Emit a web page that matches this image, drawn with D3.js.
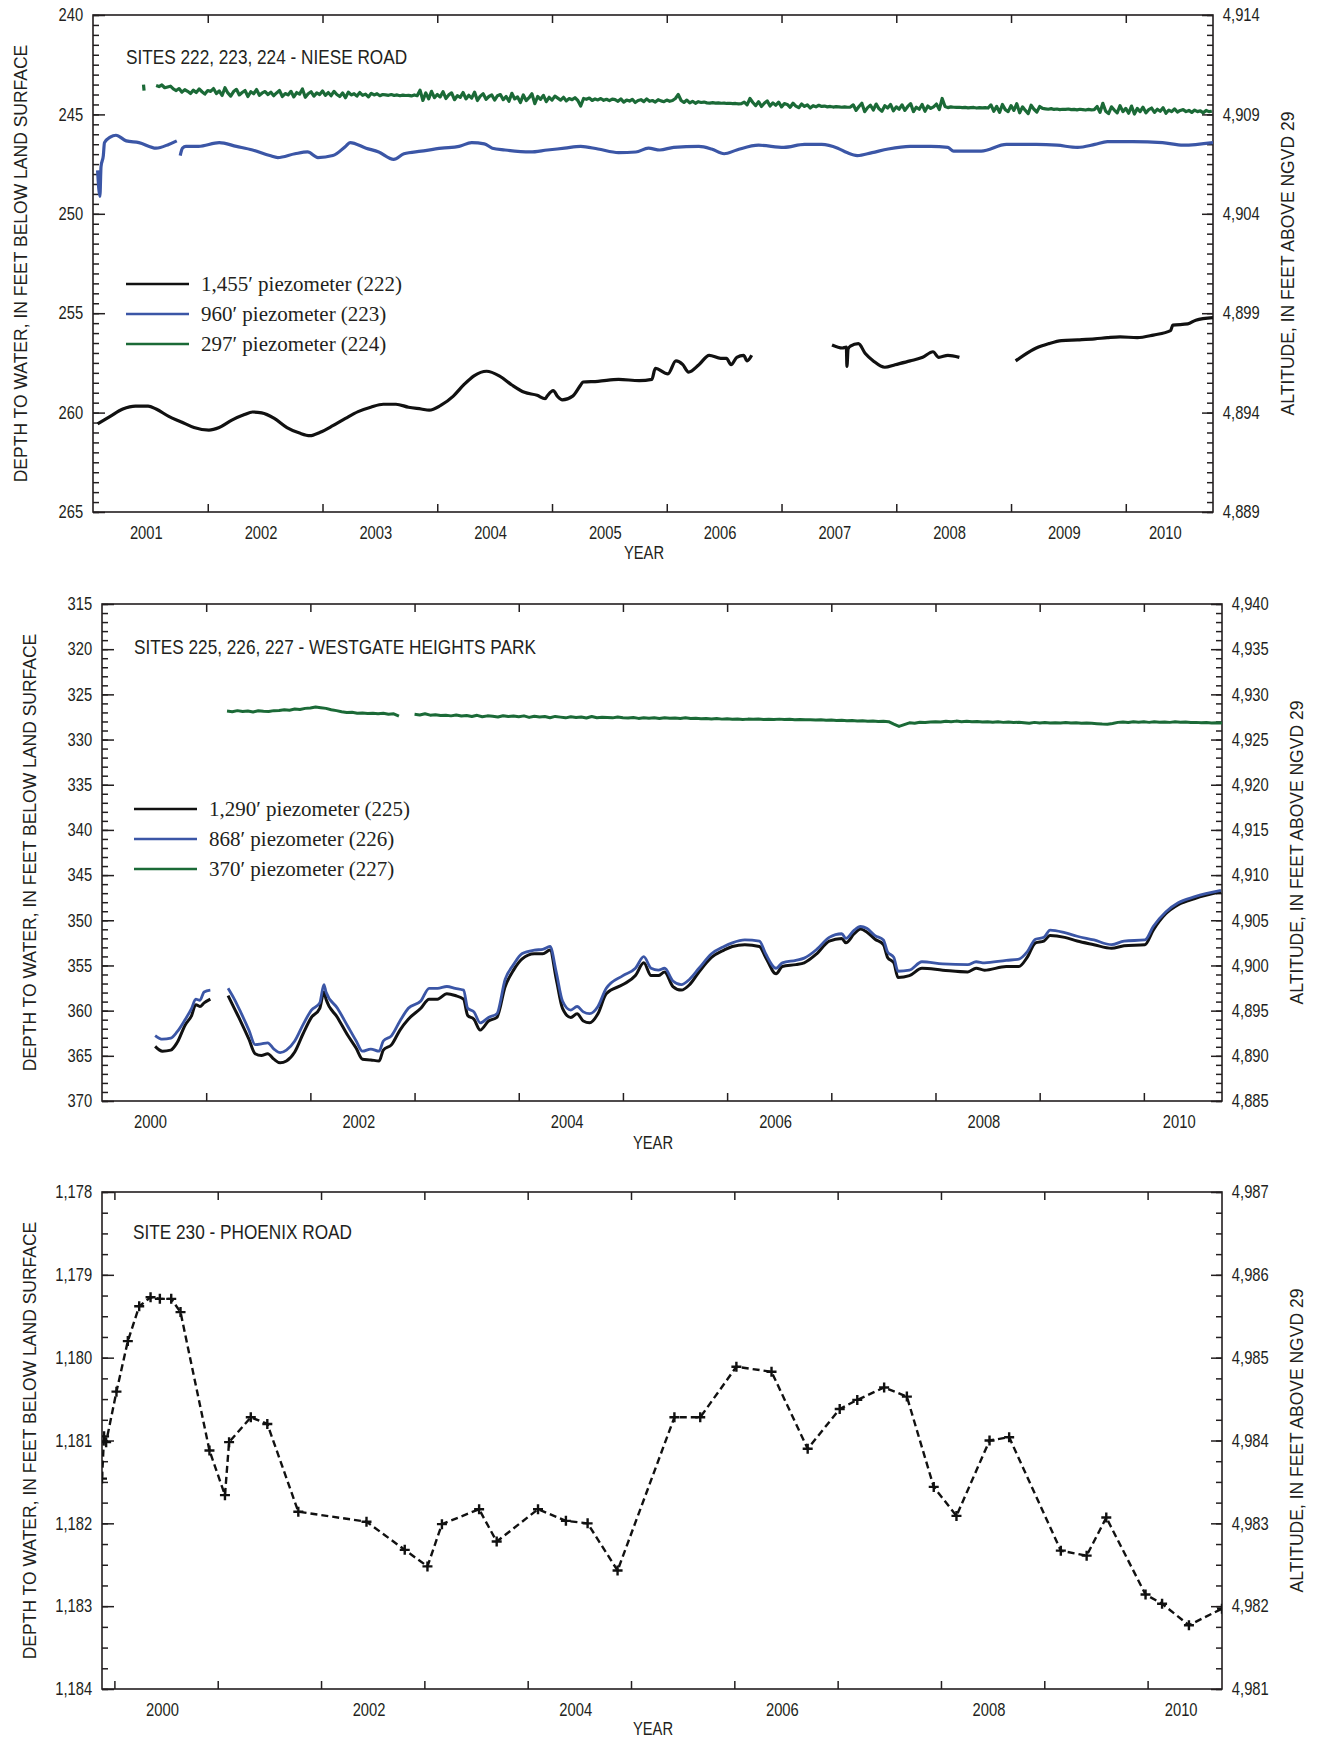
<!DOCTYPE html>
<html>
<head>
<meta charset="utf-8">
<title>Depth to water - sites 222-230</title>
<script src="https://cdn.jsdelivr.net/npm/d3@7"></script>
<style>
  body { margin: 0; background: #fff; }
  svg text { fill: #231f20; }
  .tick text { font-family: 'Liberation Sans', Arial, sans-serif; font-size: 18px; fill: #231f20; }
  .tick line { stroke: #231f20; stroke-width: 1.5; }
  .domain { display: none; }
  .frame { fill: none; stroke: #231f20; stroke-width: 1.6; }
  .panel-title { font-family: 'Liberation Sans', Arial, sans-serif; font-size: 21px; }
  .axis-title { font-family: 'Liberation Sans', Arial, sans-serif; font-size: 17.5px; }
  .year-title { font-family: 'Liberation Sans', Arial, sans-serif; font-size: 18px; }
  .legend text { font-family: 'Liberation Serif', 'Times New Roman', serif; font-size: 21px; }
</style>
</head>
<body>
<svg id="chart" width="1317" height="1738"></svg>
<script>
// ---- Panel 1: sites 222, 223, 224 (Niese Road) ----
const p1DepthTicks = [240, 245, 250, 255, 260, 265];
const p1AltTicks = [4914, 4909, 4904, 4899, 4894, 4889];
const p1YearLabels = [2001, 2002, 2003, 2004, 2005, 2006, 2007, 2008, 2009, 2010];

// 1,455' piezometer (222) [decimal year, depth]; null = gap in record
const site222 = [
  [2001.04, 260.57], [2001.15, 260.19], [2001.26, 259.82], [2001.37, 259.67], [2001.48, 259.67],
  [2001.55, 259.82], [2001.66, 260.19], [2001.77, 260.47], [2001.88, 260.75], [2002.01, 260.88],
  [2002.10, 260.75], [2002.21, 260.38], [2002.32, 260.10], [2002.39, 259.97], [2002.47, 260.01],
  [2002.58, 260.29], [2002.69, 260.75], [2002.80, 261.03], [2002.89, 261.16], [2002.98, 260.99],
  [2003.09, 260.66], [2003.20, 260.29], [2003.31, 259.95], [2003.42, 259.73], [2003.53, 259.58],
  [2003.64, 259.58], [2003.75, 259.73], [2003.86, 259.82], [2003.93, 259.88], [2004.03, 259.64],
  [2004.14, 259.17], [2004.23, 258.61], [2004.32, 258.15], [2004.43, 257.92], [2004.54, 258.15],
  [2004.65, 258.61], [2004.76, 258.98], [2004.87, 259.13], [2004.94, 259.30], [2004.96, 259.15],
  [2005.01, 258.89], [2005.05, 259.20], [2005.09, 259.36], [2005.18, 259.17], [2005.25, 258.61],
  [2005.27, 258.46], [2005.40, 258.43], [2005.58, 258.33], [2005.76, 258.39], [2005.87, 258.33],
  [2005.90, 257.77], [2006.01, 258.05], [2006.08, 257.40], [2006.14, 257.59], [2006.19, 257.96],
  [2006.28, 257.59], [2006.37, 257.12], [2006.47, 257.27], [2006.52, 257.27], [2006.56, 257.59],
  [2006.61, 257.22], [2006.67, 257.12], [2006.70, 257.40], [2006.74, 257.12],
  null,
  [2007.44, 256.60], [2007.53, 256.75], [2007.565, 256.70], [2007.57, 257.68], [2007.58, 256.80],
  [2007.60, 256.66], [2007.67, 256.53], [2007.73, 257.03], [2007.80, 257.40], [2007.90, 257.72],
  [2007.99, 257.59], [2008.12, 257.40], [2008.23, 257.22], [2008.32, 256.94], [2008.37, 257.22],
  [2008.45, 257.12], [2008.55, 257.22],
  null,
  [2009.04, 257.40], [2009.11, 257.12], [2009.22, 256.75], [2009.33, 256.53], [2009.44, 256.38],
  [2009.58, 256.34], [2009.73, 256.29], [2009.84, 256.23], [2009.95, 256.19], [2010.10, 256.23],
  [2010.24, 256.10], [2010.39, 255.88], [2010.41, 255.60], [2010.54, 255.54], [2010.61, 255.35],
  [2010.76, 255.22]
];

// 960' piezometer (223)
const site223 = [
  [2001.04, 247.82], [2001.06, 249.12], [2001.07, 247.63], [2001.09, 247.07], [2001.10, 246.42],
  [2001.15, 246.14], [2001.20, 246.05], [2001.29, 246.33], [2001.40, 246.42], [2001.55, 246.70],
  [2001.66, 246.51], [2001.73, 246.33],
  null,
  [2001.76, 247.07], [2001.78, 246.70], [2001.81, 246.61], [2001.92, 246.61], [2002.10, 246.42],
  [2002.25, 246.61], [2002.39, 246.79], [2002.54, 247.07], [2002.61, 247.17], [2002.76, 246.98],
  [2002.87, 246.89], [2002.96, 247.17], [2003.09, 247.07], [2003.20, 246.61], [2003.24, 246.42],
  [2003.38, 246.70], [2003.49, 246.89], [2003.62, 247.26], [2003.71, 246.98], [2003.86, 246.85],
  [2004.04, 246.70], [2004.19, 246.61], [2004.30, 246.42], [2004.41, 246.48], [2004.48, 246.70],
  [2004.59, 246.79], [2004.81, 246.89], [2004.96, 246.79], [2005.11, 246.70], [2005.25, 246.61],
  [2005.40, 246.74], [2005.58, 246.92], [2005.73, 246.89], [2005.84, 246.70], [2005.94, 246.79],
  [2006.06, 246.66], [2006.28, 246.61], [2006.39, 246.74], [2006.50, 246.98], [2006.61, 246.79],
  [2006.80, 246.55], [2007.02, 246.66], [2007.20, 246.51], [2007.35, 246.51], [2007.49, 246.70],
  [2007.57, 246.92], [2007.66, 247.07], [2007.79, 246.92], [2007.93, 246.74], [2008.12, 246.61],
  [2008.30, 246.61], [2008.45, 246.66], [2008.50, 246.85], [2008.74, 246.85], [2008.96, 246.51],
  [2009.22, 246.51], [2009.40, 246.55], [2009.58, 246.66], [2009.73, 246.51], [2009.84, 246.37],
  [2010.06, 246.37], [2010.32, 246.42], [2010.50, 246.55], [2010.76, 246.42]
];

// 297' piezometer (224): isolated early reading, then readings every 0.025 yr from 2001.55
const site224Early = [[2001.44, 243.50], [2001.445, 243.80]];
const site224Start = 2001.55;
const site224Step = 0.025;
const site224Depth = [
  243.55, 243.60, 243.52, 243.66, 243.62, 243.58, 243.72, 243.80, 243.70, 243.88,
  243.76, 243.84, 243.95, 243.78, 243.90, 243.72, 243.86, 243.98, 243.80, 243.84,
  243.70, 243.95, 243.82, 244.05, 243.66, 243.92, 244.08, 243.85, 243.74, 244.02,
  243.90, 243.80, 244.10, 243.86, 243.96, 243.75, 244.04, 243.92, 243.85, 244.00,
  243.88, 244.06, 243.92, 243.80, 244.10, 243.95, 244.02, 243.84, 244.12, 243.90,
  243.98, 243.72, 244.14, 243.96, 243.86, 244.08, 243.92, 244.00, 243.82, 244.04,
  243.90, 244.06, 243.84, 244.00, 244.10, 243.92, 244.16, 243.88, 244.02, 243.96,
  244.08, 243.90, 244.04, 243.98, 244.12, 243.94, 244.02, 243.96, 244.06, 244.00,
  244.02, 244.04, 244.00, 244.05, 244.02, 244.06, 244.03, 244.05, 244.04, 244.07,
  244.02, 244.06, 243.78, 244.30, 243.92, 244.22, 243.84, 244.16, 244.00, 244.12,
  243.86, 244.20, 244.02, 243.92, 244.26, 244.06, 244.14, 243.90, 244.22, 244.04,
  244.18, 243.88, 244.30, 244.08, 243.96, 244.24, 244.10, 244.02, 244.28, 244.06,
  244.00, 244.26, 244.10, 244.34, 243.94, 244.22, 244.12, 244.40, 244.02, 244.30,
  244.16, 243.96, 244.46, 244.10, 244.24, 244.04, 244.36, 244.14, 244.28, 244.08,
  244.18, 244.28, 244.14, 244.32, 244.20, 244.26, 244.16, 244.30, 244.58, 244.20,
  244.24, 244.18, 244.30, 244.22, 244.27, 244.20, 244.29, 244.24, 244.31, 244.23,
  244.26, 244.34, 244.22, 244.38, 244.28, 244.33, 244.24, 244.40, 244.30, 244.26,
  244.36, 244.22, 244.34, 244.30, 244.38, 244.26, 244.32, 244.36, 244.28, 244.34,
  244.30, 244.20, 244.00, 244.30, 244.40, 244.28, 244.42, 244.34, 244.44, 244.36,
  244.40, 244.38, 244.42, 244.43, 244.41, 244.43, 244.42, 244.44, 244.43, 244.45,
  244.44, 244.46, 244.45, 244.47, 244.46, 244.38, 244.52, 244.20, 244.40, 244.56,
  244.36, 244.60, 244.44, 244.32, 244.58, 244.42, 244.54, 244.38, 244.62, 244.46,
  244.50, 244.64, 244.44, 244.58, 244.66, 244.48, 244.60, 244.52, 244.68, 244.56,
  244.62, 244.54, 244.60, 244.58, 244.62, 244.60, 244.63, 244.61, 244.62, 244.64,
  244.62, 244.64, 244.63, 244.52, 244.80, 244.60, 244.44, 244.86, 244.66, 244.54,
  244.78, 244.48, 244.72, 244.84, 244.56, 244.68, 244.50, 244.82, 244.62, 244.74,
  244.52, 244.80, 244.60, 244.46, 244.86, 244.64, 244.74, 244.50, 244.84, 244.58,
  244.70, 244.62, 244.48, 244.76, 244.20, 244.60, 244.66, 244.62, 244.64, 244.65,
  244.64, 244.66, 244.65, 244.67, 244.66, 244.65, 244.68, 244.66, 244.67, 244.66,
  244.68, 244.52, 244.84, 244.60, 244.90, 244.50, 244.76, 244.86, 244.56, 244.80,
  244.46, 244.92, 244.62, 244.80, 244.96, 244.54, 244.74, 244.88, 244.60, 244.70,
  244.72, 244.74, 244.71, 244.75, 244.73, 244.76, 244.74, 244.75, 244.73, 244.76,
  244.75, 244.77, 244.74, 244.76, 244.78, 244.75, 244.77, 244.76, 244.60, 244.90,
  244.44, 244.84, 244.96, 244.62, 244.78, 244.92, 244.56, 244.86, 244.70, 244.94,
  244.58, 244.98, 244.70, 244.86, 244.64, 244.92, 244.76, 244.68, 244.90, 244.74,
  244.84, 244.66, 244.94, 244.78, 244.86, 244.72, 244.88, 244.80, 244.76, 244.86,
  244.80, 244.90, 244.78, 244.86, 244.82, 244.92, 244.80, 244.86, 244.84
];

// ---- Panel 2: sites 225, 226, 227 (Westgate Heights Park) ----
const p2DepthTicks = [315, 320, 325, 330, 335, 340, 345, 350, 355, 360, 365, 370];
const p2AltTicks = [4940, 4935, 4930, 4925, 4920, 4915, 4910, 4905, 4900, 4895, 4890, 4885];
const p2YearLabels = [2000, 2002, 2004, 2006, 2008, 2010];

const p2Years = [
  2000.51, 2000.58, 2000.66, 2000.72, 2000.80, 2000.86, 2000.90, 2000.94, 2000.98, 2001.04,
  2001.12,
  2001.21, 2001.27, 2001.33, 2001.41, 2001.47, 2001.53, 2001.59, 2001.65, 2001.71, 2001.77,
  2001.85, 2001.93, 2002.01, 2002.09, 2002.13, 2002.15, 2002.26, 2002.36, 2002.44, 2002.50,
  2002.58, 2002.66, 2002.70, 2002.78, 2002.86, 2002.94, 2003.06, 2003.14, 2003.22, 2003.31,
  2003.39, 2003.47, 2003.51, 2003.57, 2003.63, 2003.71, 2003.79, 2003.87, 2003.95, 2004.03,
  2004.15, 2004.23, 2004.30, 2004.36, 2004.42, 2004.50, 2004.56, 2004.62, 2004.68, 2004.76,
  2004.84, 2005.00, 2005.12, 2005.20, 2005.27, 2005.34, 2005.40, 2005.48, 2005.56, 2005.64,
  2005.73, 2005.85, 2005.97, 2006.05, 2006.17, 2006.31, 2006.37, 2006.47, 2006.53, 2006.66,
  2006.74, 2006.86, 2006.98, 2007.10, 2007.14, 2007.22, 2007.28, 2007.34, 2007.42, 2007.50,
  2007.54, 2007.60, 2007.64, 2007.75, 2007.87, 2008.07, 2008.31, 2008.39, 2008.47, 2008.68,
  2008.80, 2008.88, 2008.96, 2009.04, 2009.10, 2009.24, 2009.36, 2009.52, 2009.69, 2009.81,
  2010.01, 2010.09, 2010.21, 2010.33, 2010.49, 2010.74
];

// 1,290' piezometer (225)
const site225 = [
  363.96, 364.49, 364.37, 363.56, 361.55, 360.54, 359.34, 359.54, 359.14, 358.73,
  null,
  358.33, 359.74, 361.15, 363.16, 364.77, 364.97, 364.77, 365.37, 365.78, 365.57,
  364.57, 362.56, 360.75, 359.74, 357.93, 358.73, 360.75, 362.76, 364.17, 365.37,
  365.45, 365.57, 364.37, 363.76, 362.15, 360.95, 359.74, 358.73, 358.73, 358.13,
  358.33, 358.73, 360.54, 360.95, 362.15, 361.15, 360.75, 357.33, 355.52, 354.31,
  353.71, 353.71, 353.30, 356.52, 359.74, 360.75, 360.34, 361.15, 361.35, 360.34,
  358.13, 357.12, 356.12, 354.71, 356.12, 356.12, 355.72, 357.33, 357.73, 357.12,
  355.72, 354.11, 353.30, 352.90, 352.70, 352.90, 354.11, 355.92, 355.12, 354.91,
  354.71, 353.71, 352.30, 352.01, 352.50, 351.49, 350.97, 351.29, 352.10, 352.70,
  354.11, 354.71, 356.32, 356.12, 355.31, 355.52, 355.72, 355.31, 355.52, 355.12,
  355.12, 354.11, 352.50, 352.30, 351.69, 351.89, 352.30, 352.70, 353.10, 352.82,
  352.70, 351.09, 349.28, 348.27, 347.59, 346.86
];

// 868' piezometer (226)
const site226 = [
  362.76, 363.16, 363.04, 362.36, 360.95, 359.74, 358.73, 358.85, 357.93, 357.73,
  null,
  357.53, 358.73, 360.14, 362.15, 363.76, 363.68, 363.56, 364.25, 364.65, 364.37,
  363.36, 361.55, 359.94, 359.14, 357.12, 357.93, 359.74, 361.75, 363.36, 364.49,
  364.25, 364.49, 363.36, 362.76, 361.15, 359.74, 358.93, 357.53, 357.53, 357.33,
  357.53, 357.73, 359.74, 360.14, 361.35, 360.75, 360.34, 356.52, 354.91, 353.71,
  353.30, 353.22, 352.90, 355.72, 358.93, 359.94, 359.54, 360.14, 360.34, 359.54,
  357.53, 356.12, 355.31, 354.03, 355.31, 355.52, 355.31, 356.72, 357.12, 356.52,
  355.31, 353.71, 352.90, 352.50, 352.18, 352.30, 353.71, 355.31, 354.71, 354.43,
  354.19, 353.22, 351.89, 351.49, 352.01, 351.09, 350.69, 350.89, 351.69, 352.18,
  353.50, 354.11, 355.64, 355.52, 354.59, 354.83, 354.91, 354.59, 354.71, 354.43,
  354.31, 353.50, 352.10, 351.89, 351.09, 351.37, 351.77, 352.18, 352.70, 352.30,
  352.18, 350.69, 349.08, 348.07, 347.39, 346.70
];

// 370' piezometer (227): two runs of readings every 0.05 yr
const site227Step = 0.05;
const site227StartA = 2001.20;
const site227DepthA = [
  326.85, 326.92, 326.80, 326.90, 326.85, 326.95, 326.82, 326.88, 326.90, 326.80,
  326.78, 326.70, 326.75, 326.62, 326.68, 326.55, 326.50, 326.40, 326.48, 326.55,
  326.70, 326.80, 326.92, 327.00, 326.98, 327.08, 327.05, 327.12, 327.08, 327.15,
  327.10, 327.20, 327.15, 327.40
];
const site227StartB = 2003.00;
const site227DepthB = [
  327.20, 327.28, 327.15, 327.30, 327.25, 327.35, 327.30, 327.38, 327.28, 327.40,
  327.35, 327.45, 327.32, 327.48, 327.38, 327.42, 327.50, 327.36, 327.46, 327.40,
  327.48, 327.38, 327.55, 327.42, 327.50, 327.46, 327.58, 327.44, 327.52, 327.60,
  327.48, 327.56, 327.50, 327.62, 327.45, 327.58, 327.52, 327.55, 327.60, 327.50,
  327.58, 327.62, 327.55, 327.66, 327.58, 327.64, 327.60, 327.68, 327.58, 327.65,
  327.62, 327.66, 327.60, 327.68, 327.64, 327.70, 327.66, 327.72, 327.68, 327.74,
  327.70, 327.76, 327.72, 327.78, 327.74, 327.76, 327.72, 327.78, 327.75, 327.77,
  327.74, 327.78, 327.76, 327.80, 327.78, 327.82, 327.80, 327.84, 327.82, 327.86,
  327.84, 327.88, 327.86, 327.92, 327.90, 327.94, 327.92, 327.98, 327.96, 328.00,
  327.98, 328.02, 328.30, 328.55, 328.35, 328.15, 328.20, 328.08, 328.12, 328.05,
  328.02, 328.06, 327.98, 328.04, 327.96, 328.02, 327.98, 328.04, 328.00, 328.06,
  328.02, 328.08, 328.04, 328.10, 328.06, 328.12, 328.08, 328.14, 328.20, 328.10,
  328.16, 328.12, 328.18, 328.14, 328.16, 328.12, 328.18, 328.15, 328.20, 328.16,
  328.20, 328.24, 328.28, 328.30, 328.22, 328.10, 328.05, 328.12, 328.02, 328.08,
  328.04, 328.10, 328.02, 328.08, 328.05, 328.10, 328.04, 328.08, 328.06, 328.12,
  328.10, 328.14, 328.12, 328.16, 328.14, 328.18
];

// ---- Panel 3: site 230 (Phoenix Road) ----
const p3DepthTicks = [1178, 1179, 1180, 1181, 1182, 1183, 1184];
const p3AltTicks = [4987, 4986, 4985, 4984, 4983, 4982, 4981];
const p3YearLabels = [2000, 2002, 2004, 2006, 2008, 2010];

const p3Years = [
  1999.88, 1999.90, 1999.92, 2000.02, 2000.13, 2000.24, 2000.35, 2000.44, 2000.55, 2000.64,
  2000.92, 2001.07, 2001.11, 2001.32, 2001.48, 2001.78, 2002.44, 2002.81, 2003.03, 2003.17,
  2003.53, 2003.70, 2004.10, 2004.37, 2004.58, 2004.87, 2005.42, 2005.67, 2006.02, 2006.36,
  2006.71, 2007.02, 2007.19, 2007.45, 2007.67, 2007.93, 2008.15, 2008.47, 2008.66, 2009.16,
  2009.41, 2009.60, 2009.98, 2010.14, 2010.40, 2010.72
];
const site230 = [
  1181.46, 1180.95, 1181.02, 1180.41, 1179.80, 1179.38, 1179.27, 1179.29, 1179.29, 1179.45,
  1181.12, 1181.66, 1181.02, 1180.72, 1180.80, 1181.86, 1181.98, 1182.32, 1182.52, 1182.01,
  1181.83, 1182.22, 1181.83, 1181.97, 1182.00, 1182.57, 1180.72, 1180.72, 1180.11, 1180.17,
  1181.10, 1180.62, 1180.51, 1180.36, 1180.47, 1181.56, 1181.91, 1181.00, 1180.96, 1182.33,
  1182.39, 1181.93, 1182.86, 1182.97, 1183.23, 1183.03
];

// ---- drawing ----
const BLACK = '#111111';
const BLUE = '#3b56a6';
const GREEN = '#1b6a37';
const NARROW = 'scale(0.82,1)'; // condensed look for labels (no narrow face installed)

const svg = d3.select('#chart');
const fmt = d3.format(',');

function stepSeries(start, step, values) {
  return values.map((v, i) => [start + i * step, v]);
}
function pairSeries(years, values) {
  return years.map((yr, i) => (values[i] === null ? null : [yr, values[i]]));
}

function drawPanel(p) {
  const g = svg.append('g');
  const x = d3.scaleLinear().domain(p.xDomain).range([p.x0, p.x1]);
  const y = d3.scaleLinear()
    .domain([p.depthTicks[0], p.depthTicks[p.depthTicks.length - 1]])
    .range([p.y0, p.y1]);
  const yAlt = d3.scaleLinear()
    .domain([p.altTicks[0], p.altTicks[p.altTicks.length - 1]])
    .range([p.y0, p.y1]);

  // minor ticks on depth / altitude axes
  const d0 = p.depthTicks[0];
  const dn = p.depthTicks[p.depthTicks.length - 1];
  const minorDepth = d3.range(Math.round((dn - d0) / p.minorStep) + 1).map(i => d0 + i * p.minorStep);
  const a0 = p.altTicks[0];
  const minorAlt = minorDepth.map(d => a0 - (d - d0));

  g.append('g').attr('transform', `translate(${p.x0},0)`)
    .call(d3.axisLeft(y).tickValues(minorDepth).tickSizeInner(-6).tickSizeOuter(0).tickFormat(''));
  g.append('g').attr('transform', `translate(${p.x0},0)`)
    .call(d3.axisLeft(y).tickValues(p.depthTicks).tickSizeInner(-12).tickSizeOuter(0).tickPadding(12).tickFormat(fmt))
    .selectAll('text').attr('transform', NARROW);

  g.append('g').attr('transform', `translate(${p.x1},0)`)
    .call(d3.axisRight(yAlt).tickValues(minorAlt).tickSizeInner(-6).tickSizeOuter(0).tickFormat(''));
  g.append('g').attr('transform', `translate(${p.x1},0)`)
    .call(d3.axisRight(yAlt).tickValues(p.altTicks).tickSizeInner(-11).tickSizeOuter(0).tickPadding(12).tickFormat(fmt))
    .selectAll('text').attr('transform', NARROW);

  // year ticks on top and bottom
  const firstYear = Math.ceil(p.xDomain[0] + 0.001);
  const yearTicks = d3.range(firstYear, Math.floor(p.xDomain[1]) + 1).filter(v => v > p.xDomain[0] + 0.01);
  g.append('g').attr('transform', `translate(0,${p.y1})`)
    .call(d3.axisBottom(x).tickValues(yearTicks).tickSizeInner(-8).tickSizeOuter(0).tickFormat(''));
  g.append('g').attr('transform', `translate(0,${p.y0})`)
    .call(d3.axisTop(x).tickValues(yearTicks).tickSizeInner(-8).tickSizeOuter(0).tickFormat(''));

  // year labels centred in the visible part of each year
  const labelPos = p.yearLabels.map(yr => {
    const a = Math.max(yr, p.xDomain[0]);
    const b = Math.min(yr + 1, p.xDomain[1]);
    return (a + b) / 2 - 0.04;
  });
  g.append('g').attr('transform', `translate(0,${p.y1})`)
    .call(d3.axisBottom(x).tickValues(labelPos).tickSize(0).tickPadding(14)
      .tickFormat((d, i) => p.yearLabels[i]))
    .selectAll('text').attr('transform', NARROW);

  // frame
  g.append('rect').attr('class', 'frame')
    .attr('x', p.x0).attr('y', p.y0)
    .attr('width', p.x1 - p.x0).attr('height', p.y1 - p.y0);

  // series
  const clipId = `clip${p.id}`;
  svg.append('clipPath').attr('id', clipId).append('rect')
    .attr('x', p.x0).attr('y', p.y0).attr('width', p.x1 - p.x0).attr('height', p.y1 - p.y0);
  const plot = g.append('g').attr('clip-path', `url(#${clipId})`);

  p.series.forEach(s => {
    const line = d3.line()
      .defined(d => d !== null)
      .x(d => x(d[0]))
      .y(d => y(d[1]))
      .curve(s.curve || d3.curveLinear);
    plot.append('path')
      .attr('d', line(s.points))
      .attr('fill', 'none')
      .attr('stroke', s.color)
      .attr('stroke-width', s.width)
      .attr('stroke-dasharray', s.dash || null)
      .attr('stroke-linejoin', 'round');
    if (s.markers) {
      plot.selectAll(null)
        .data(s.points.filter(d => d !== null))
        .enter()
        .append('path')
        .attr('d', d => {
          const cx = x(d[0]), cy = y(d[1]);
          return `M${cx - 5},${cy}H${cx + 5}M${cx},${cy - 5}V${cy + 5}`;
        })
        .attr('stroke', s.color)
        .attr('stroke-width', 2.4);
    }
  });

  // titles
  g.append('text').attr('class', 'panel-title')
    .attr('transform', `translate(${p.x0 + p.titleDx},${p.y0 + p.titleDy}) ${NARROW}`)
    .text(p.title);

  g.append('text').attr('class', 'axis-title')
    .attr('transform', `translate(${p.leftTitleX},${(p.y0 + p.y1) / 2}) rotate(-90)`)
    .attr('text-anchor', 'middle')
    .text('DEPTH TO WATER, IN FEET BELOW LAND SURFACE');

  g.append('text').attr('class', 'axis-title')
    .attr('transform', `translate(${p.rightTitleX},${(p.y0 + p.y1) / 2}) rotate(-90)`)
    .attr('text-anchor', 'middle')
    .text('ALTITUDE, IN FEET ABOVE NGVD 29');

  g.append('text').attr('class', 'year-title')
    .attr('transform', `translate(${(p.x0 + p.x1) / 2 - 9},${p.yearTitleY}) ${NARROW}`)
    .attr('text-anchor', 'middle')
    .text('YEAR');

  // legend
  if (p.legend) {
    const lg = g.append('g').attr('class', 'legend')
      .attr('transform', `translate(${p.x0 + p.legendDx},${p.y0 + p.legendDy})`);
    const items = lg.selectAll('.legend-item')
      .data(p.legend)
      .enter()
      .append('g')
      .attr('transform', (d, i) => `translate(0,${i * 30})`);
    items.append('line')
      .attr('x1', 0).attr('x2', 63).attr('y1', 0).attr('y2', 0)
      .attr('stroke', d => d.color).attr('stroke-width', 2.5);
    items.append('text')
      .attr('x', 75).attr('y', 7)
      .text(d => d.label);
  }
}

drawPanel({
  id: 1, x0: 93, x1: 1213, y0: 15, y1: 512,
  xDomain: [2001, 2010.76],
  depthTicks: p1DepthTicks, altTicks: p1AltTicks, minorStep: 0.5,
  yearLabels: p1YearLabels,
  title: 'SITES 222, 223, 224 - NIESE ROAD', titleDx: 33, titleDy: 49,
  leftTitleX: 27, rightTitleX: 1294, yearTitleY: 559,
  legendDx: 33, legendDy: 269,
  legend: [
    { label: '1,455\u2032 piezometer (222)', color: BLACK },
    { label: '960\u2032 piezometer (223)', color: BLUE },
    { label: '297\u2032 piezometer (224)', color: GREEN }
  ],
  series: [
    { points: site224Early, color: GREEN, width: 3.2 },
    { points: stepSeries(site224Start, site224Step, site224Depth), color: GREEN, width: 3.2 },
    { points: site223, color: BLUE, width: 3.2, curve: d3.curveMonotoneX },
    { points: site222, color: BLACK, width: 3.2, curve: d3.curveMonotoneX }
  ]
});

drawPanel({
  id: 2, x0: 102, x1: 1222, y0: 604, y1: 1101,
  xDomain: [2000, 2010.75],
  depthTicks: p2DepthTicks, altTicks: p2AltTicks, minorStep: 1,
  yearLabels: p2YearLabels,
  title: 'SITES 225, 226, 227 - WESTGATE HEIGHTS PARK', titleDx: 32, titleDy: 50,
  leftTitleX: 36, rightTitleX: 1303, yearTitleY: 1149,
  legendDx: 32, legendDy: 205,
  legend: [
    { label: '1,290\u2032 piezometer (225)', color: BLACK },
    { label: '868\u2032 piezometer (226)', color: BLUE },
    { label: '370\u2032 piezometer (227)', color: GREEN }
  ],
  series: [
    { points: stepSeries(site227StartA, site227Step, site227DepthA), color: GREEN, width: 3 },
    { points: stepSeries(site227StartB, site227Step, site227DepthB), color: GREEN, width: 3 },
    { points: pairSeries(p2Years, site225), color: BLACK, width: 3, curve: d3.curveMonotoneX },
    { points: pairSeries(p2Years, site226), color: BLUE, width: 2.8, curve: d3.curveMonotoneX }
  ]
});

drawPanel({
  id: 3, x0: 102, x1: 1222, y0: 1192, y1: 1689,
  xDomain: [1999.88, 2010.72],
  depthTicks: p3DepthTicks, altTicks: p3AltTicks, minorStep: 0.25,
  yearLabels: p3YearLabels,
  title: 'SITE 230 - PHOENIX ROAD', titleDx: 31, titleDy: 47,
  leftTitleX: 36, rightTitleX: 1303, yearTitleY: 1735,
  series: [
    { points: pairSeries(p3Years, site230), color: BLACK, width: 2.4, dash: '7,4', markers: true }
  ]
});
</script>
</body>
</html>
